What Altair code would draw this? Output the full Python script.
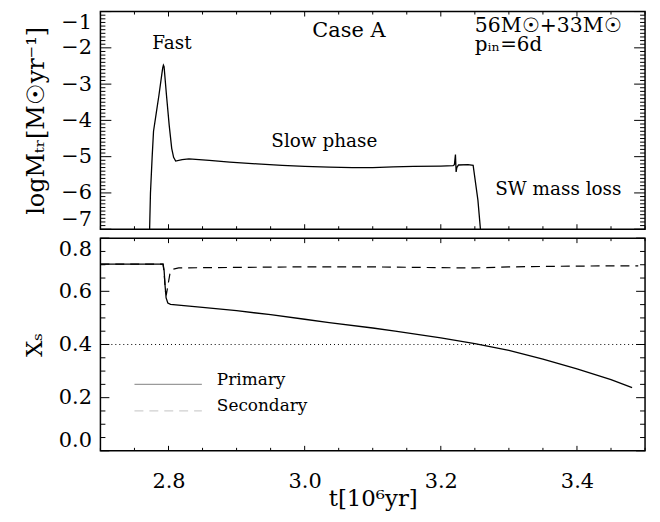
import altair as alt
import pandas as pd

# ---------------- data ----------------
t_top = [2.7715, 2.7735, 2.776, 2.778, 2.782, 2.786, 2.790, 2.7915, 2.7925, 2.7935,
         2.797, 2.801, 2.8047, 2.8075, 2.8105, 2.820, 2.830, 2.860, 2.890, 2.930,
         2.967, 3.000, 3.036, 3.070, 3.100, 3.130, 3.160, 3.200, 3.218, 3.220,
         3.2215, 3.2225, 3.2235, 3.226, 3.240, 3.2475, 3.2545, 3.261]
logm = [-7.6, -6.0, -5.0, -4.3, -3.8, -3.3, -2.75, -2.55, -2.48, -2.52,
        -3.3, -4.13, -4.77, -5.02, -5.12, -5.08, -5.06, -5.10, -5.15, -5.20,
        -5.24, -5.27, -5.29, -5.30, -5.30, -5.28, -5.27, -5.26, -5.25, -5.22,
        -4.94, -5.42, -5.30, -5.23, -5.22, -5.24, -6.2, -7.6]

t_prim = [2.70, 2.792, 2.7935, 2.795, 2.7965, 2.799, 2.803, 2.85, 2.90, 2.95,
          3.00, 3.036, 3.10, 3.133, 3.20, 3.25, 3.30, 3.35, 3.40, 3.45, 3.481]
x_prim = [0.702, 0.702, 0.68, 0.62, 0.575, 0.556, 0.551, 0.540, 0.527, 0.512,
          0.495, 0.482, 0.462, 0.450, 0.425, 0.403, 0.378, 0.345, 0.308, 0.268, 0.238]

t_sec = [2.70, 2.792, 2.7935, 2.7955, 2.797, 2.799, 2.802, 2.806, 2.815, 2.90,
         3.00, 3.10, 3.20, 3.25, 3.30, 3.40, 3.49]
x_sec = [0.702, 0.702, 0.67, 0.60, 0.59, 0.62, 0.665, 0.683, 0.688, 0.690,
         0.692, 0.692, 0.689, 0.688, 0.692, 0.695, 0.696]

x_threshold = [0.4]

# tick values
x_labels = [2.8, 3.0, 3.2, 3.4]
x_minor = [2.7, 2.75, 2.85, 2.9, 2.95, 3.05, 3.1, 3.15, 3.25, 3.3, 3.35, 3.45, 3.5]
y_top_labels = [-7, -6, -5, -4, -3, -2, -1]
y_top_minor = [round(-7 + 0.1 * i, 1) for i in range(61) if i % 10 != 0]
y_bot_labels = [0.0, 0.2, 0.4, 0.6, 0.8]
y_bot_minor = [0.05, 0.1, 0.15, 0.25, 0.3, 0.35, 0.45, 0.5, 0.55, 0.65, 0.7, 0.75]

# annotations (data coordinates)
top_text = ["Fast", "Case  A", "56M☉+33M☉", "pᵢₙ=6d", "Slow phase", "SW mass loss"]
top_text_t = [2.805, 3.065, 3.250, 3.250, 2.951, 3.280]
top_text_v = [-2.03, -1.71, -1.57, -2.10, -4.73, -6.05]
top_text_size = [18.5, 21, 20.5, 20, 18.5, 18.5]
top_text_align = ["center", "center", "left", "left", "left", "left"]

leg_labels = ["Primary", "Secondary"]
leg_text_t = [2.871, 2.871]
leg_text_v = [0.246, 0.150]
leg_line_t = [2.750, 2.849]
leg_line_v = [0.250, 0.150]

# ---------------- styling ----------------
W, H1, H2 = 548, 219, 214
FONT = "DejaVu Serif"
LBL = 21

x_scale = alt.Scale(domain=[2.7, 3.5], nice=False, zero=False)
y1_scale = alt.Scale(domain=[-7, -1], nice=False, zero=False)
y2_scale = alt.Scale(domain=[0, 0.8], nice=False, zero=False)


def x_ticks(values, length, h):
    df = pd.DataFrame({"t": values})
    base = alt.Chart(df).mark_rule(color="black", strokeWidth=1)
    xe = alt.X("t:Q", scale=x_scale, axis=None)
    bottom = base.encode(x=xe, y=alt.value(h - length), y2=alt.value(h))
    top = base.encode(x=xe, y=alt.value(0), y2=alt.value(length))
    return [bottom, top]


def y_ticks(values, length, yscale):
    df = pd.DataFrame({"v": values})
    base = alt.Chart(df).mark_rule(color="black", strokeWidth=1)
    ye = alt.Y("v:Q", scale=yscale, axis=None)
    left = base.encode(y=ye, x=alt.value(0), x2=alt.value(length))
    right = base.encode(y=ye, x=alt.value(W - length), x2=alt.value(W))
    return [left, right]


# ---------------- top panel ----------------
df_top = pd.DataFrame({"t": t_top, "v": logm, "i": list(range(len(t_top)))})
line_top = alt.Chart(df_top).mark_line(color="black", strokeWidth=1.3, clip=True).encode(
    x=alt.X("t:Q", scale=x_scale, axis=None),
    y=alt.Y("v:Q", scale=y1_scale,
            axis=alt.Axis(values=y_top_labels, format="d", ticks=False, domain=False,
                          grid=False, labelFlush=True, labelPadding=9, labelFont=FONT,
                          labelFontSize=LBL, labelColor="black",
                          title="logMₜᵣ[M☉yr⁻¹]", titleFont=FONT, titleFontSize=24,
                          titleFontWeight="normal", titleColor="black", titlePadding=12)),
    order="i:Q",
)

ann_layers = []
for i in range(len(top_text)):
    d = pd.DataFrame({"label": [top_text[i]], "t": [top_text_t[i]], "v": [top_text_v[i]]})
    ann_layers.append(
        alt.Chart(d).mark_text(
            font=FONT, fontSize=top_text_size[i], align=top_text_align[i],
            baseline="alphabetic", color="black"
        ).encode(
            x=alt.X("t:Q", scale=x_scale, axis=None),
            y=alt.Y("v:Q", scale=y1_scale, axis=None),
            text="label:N",
        )
    )

top_ticks = (x_ticks(x_labels, 5, H1) + x_ticks(x_minor, 3, H1)
             + y_ticks(y_top_labels, 11, y1_scale) + y_ticks(y_top_minor, 5, y1_scale))

top = alt.layer(line_top, *ann_layers, *top_ticks).resolve_axis(
    x="independent", y="independent").properties(width=W, height=H1)

# ---------------- bottom panel ----------------
df_p = pd.DataFrame({"t": t_prim, "x": x_prim})
df_s = pd.DataFrame({"t": t_sec, "x": x_sec})

prim = alt.Chart(df_p).mark_line(color="black", strokeWidth=1.3).encode(
    x=alt.X("t:Q", scale=x_scale,
            axis=alt.Axis(values=x_labels, format=".1f", ticks=False, domain=False,
                          grid=False, labelPadding=20, labelFont=FONT, labelFontSize=LBL,
                          labelColor="black", labelFlush=False,
                          title="t[10⁶yr]", titleFont=FONT, titleFontSize=23,
                          titleFontWeight="normal", titleColor="black", titlePadding=-4)),
    y=alt.Y("x:Q", scale=y2_scale,
            axis=alt.Axis(values=y_bot_labels, format=".1f", ticks=False, domain=False,
                          grid=False, labelFlush=True, labelPadding=9, labelFont=FONT,
                          labelFontSize=LBL, labelColor="black",
                          title="Xₛ", titleFont=FONT, titleFontSize=23,
                          titleFontWeight="normal", titleColor="black", titlePadding=12)),
)
sec = alt.Chart(df_s).mark_line(color="black", strokeWidth=1.2, strokeDash=[9, 6]).encode(
    x=alt.X("t:Q", scale=x_scale, axis=None),
    y=alt.Y("x:Q", scale=y2_scale, axis=None),
)
thr = alt.Chart(pd.DataFrame({"y": x_threshold})).mark_rule(
    color="black", strokeWidth=1, strokeDash=[1, 3]).encode(
    y=alt.Y("y:Q", scale=y2_scale, axis=None))

leg_p = alt.Chart(pd.DataFrame({"t": leg_line_t, "x": [leg_line_v[0]] * 2})).mark_line(
    color="#9a9a9a", strokeWidth=1.2).encode(
    x=alt.X("t:Q", scale=x_scale, axis=None), y=alt.Y("x:Q", scale=y2_scale, axis=None))
leg_s = alt.Chart(pd.DataFrame({"t": leg_line_t, "x": [leg_line_v[1]] * 2})).mark_line(
    color="#d0d0d0", strokeWidth=1.2, strokeDash=[9, 6]).encode(
    x=alt.X("t:Q", scale=x_scale, axis=None), y=alt.Y("x:Q", scale=y2_scale, axis=None))
leg_txt = alt.Chart(pd.DataFrame({"label": leg_labels, "t": leg_text_t, "x": leg_text_v})).mark_text(
    font=FONT, fontSize=17, align="left", baseline="alphabetic", color="black").encode(
    x=alt.X("t:Q", scale=x_scale, axis=None), y=alt.Y("x:Q", scale=y2_scale, axis=None),
    text="label:N")

bot_ticks = (x_ticks(x_labels, 5, H2) + x_ticks(x_minor, 3, H2)
             + y_ticks(y_bot_labels, 9, y2_scale) + y_ticks(y_bot_minor, 5, y2_scale))

bottom = alt.layer(prim, sec, thr, leg_p, leg_s, leg_txt, *bot_ticks).resolve_axis(
    x="independent", y="independent").properties(width=W, height=H2)

chart = alt.vconcat(top, bottom, spacing=5).configure_view(
    stroke="black", strokeWidth=1.5).properties(
    padding={"left": 14, "top": 0, "right": 5, "bottom": 5})

chart.save("out.html", embed_options={"renderer": "svg", "actions": False})
